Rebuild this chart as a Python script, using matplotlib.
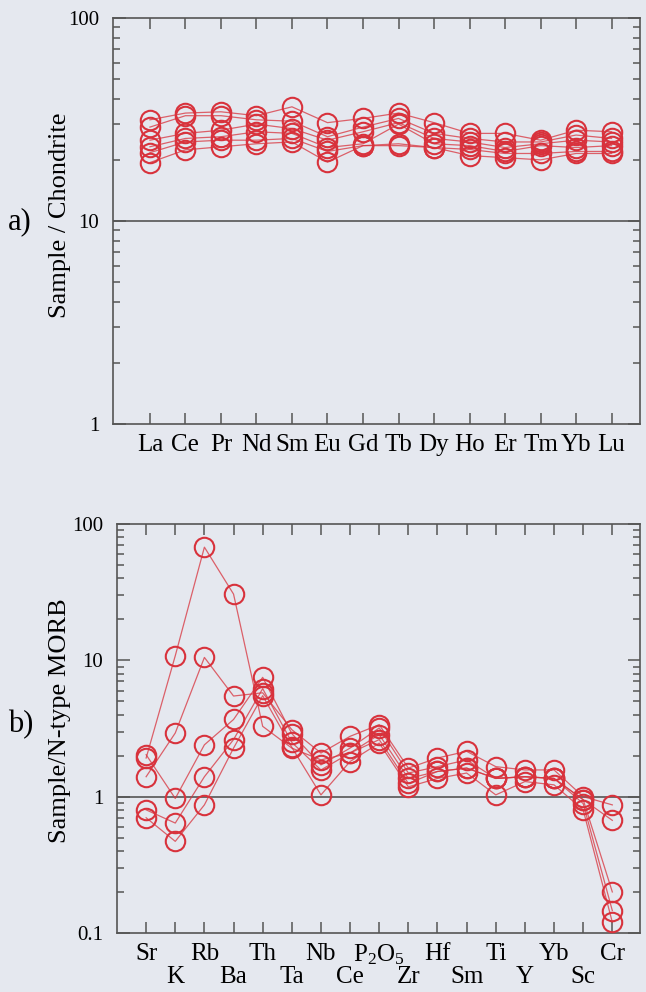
import matplotlib
matplotlib.use('Agg')
import matplotlib.pyplot as plt
from matplotlib.ticker import FixedLocator, FixedFormatter, LogLocator, NullFormatter

plt.rcParams['font.family'] = ['Liberation Serif', 'DejaVu Serif']
plt.rcParams['mathtext.fontset'] = 'custom'
plt.rcParams['mathtext.rm'] = 'Liberation Serif'
plt.rcParams['mathtext.it'] = 'Liberation Serif:italic'

# ---- Panel a: chondrite-normalised REE ----
ree = ['La', 'Ce', 'Pr', 'Nd', 'Sm', 'Eu', 'Gd', 'Tb', 'Dy', 'Ho', 'Er', 'Tm', 'Yb', 'Lu']
ree_s1 = [31.5, 34.0, 34.5, 33.0, 36.5, 30.5, 32.0, 34.0, 30.5, 27.0, 27.0, 25.0, 28.0, 27.5]
ree_s2 = [29.0, 33.0, 33.0, 31.5, 31.0, 26.0, 29.0, 32.0, 27.0, 25.5, 24.5, 24.5, 26.5, 25.5]
ree_s3 = [25.0, 27.0, 28.0, 30.0, 28.5, 25.0, 27.5, 30.5, 25.5, 24.5, 23.0, 24.0, 25.0, 24.5]
ree_s4 = [23.2, 25.5, 26.0, 27.5, 27.0, 23.0, 24.0, 30.0, 24.0, 23.5, 22.0, 23.5, 23.0, 23.5]
ree_s5 = [21.7, 24.5, 25.0, 25.0, 25.5, 22.0, 23.5, 24.0, 23.0, 22.5, 21.5, 21.5, 22.0, 22.0]
ree_s6 = [19.4, 22.4, 23.2, 24.0, 24.5, 19.5, 23.5, 23.5, 23.0, 21.0, 20.5, 20.0, 21.5, 21.5]
ree_samples = [ree_s1, ree_s2, ree_s3, ree_s4, ree_s5, ree_s6]
ree_yticks = [1, 10, 100]
ree_yticklabels = ['1', '10', '100']

# ---- Panel b: N-MORB-normalised spider diagram ----
spider = ['Sr', 'K', 'Rb', 'Ba', 'Th', 'Ta', 'Nb', 'Ce', 'P$_2$O$_5$', 'Zr',
          'Hf', 'Sm', 'Ti', 'Y', 'Yb', 'Sc', 'Cr']
sp_s1 = [1.92, 10.8, 67.6, 30.6, 3.28, 2.27, 1.86, 2.09, 2.85, 1.36, 1.53, 1.62, 1.36, 1.40, 1.36, 0.95, 0.67]
sp_s2 = [1.40, 2.93, 10.5, 5.47, 5.78, 3.10, 2.09, 2.77, 3.37, 1.62, 1.92, 2.15, 1.66, 1.57, 1.57, 1.00, 0.87]
sp_s3 = [2.03, 0.97, 2.40, 3.68, 7.50, 2.90, 1.71, 2.27, 3.19, 1.49, 1.66, 1.86, 1.36, 1.40, 1.36, 0.95, 0.20]
sp_s4 = [0.80, 0.64, 1.40, 2.62, 6.20, 2.50, 1.57, 2.09, 2.62, 1.25, 1.53, 1.62, 1.36, 1.40, 1.36, 0.89, 0.146]
sp_s5 = [0.70, 0.47, 0.87, 2.27, 5.50, 2.30, 1.03, 1.81, 2.47, 1.18, 1.36, 1.49, 1.03, 1.29, 1.22, 0.80, 0.12]
sp_samples = [sp_s1, sp_s2, sp_s3, sp_s4, sp_s5]
sp_yticks = [0.1, 1, 10, 100]
sp_yticklabels = ['0.1', '1', '10', '100']

RED = '#d8323c'
AX = '#555555'
BG = '#e5e8ef'

fig = plt.figure(figsize=(6.46, 9.92), dpi=100, facecolor=BG)

def style(ax, n, xlabels, xlim, ylim, yt, ytl, refline, xfs):
    ax.set_facecolor(BG)
    ax.set_yscale('log')
    ax.set_xlim(*xlim)
    ax.set_ylim(*ylim)
    for s in ax.spines.values():
        s.set_color(AX)
        s.set_linewidth(1.2)
    ax.axhline(refline, color=AX, lw=1.2, zorder=1)
    ax.xaxis.set_major_locator(FixedLocator(list(range(1, n + 1))))
    ax.xaxis.set_major_formatter(FixedFormatter(xlabels))
    ax.yaxis.set_major_locator(FixedLocator(yt))
    ax.yaxis.set_major_formatter(FixedFormatter(ytl))
    ax.yaxis.set_minor_locator(LogLocator(base=10, subs=range(2, 10)))
    ax.yaxis.set_minor_formatter(NullFormatter())
    ax.tick_params(axis='both', which='both', direction='in', top=True, right=True,
                   color=AX, width=1.1)
    ax.tick_params(axis='x', which='major', length=8, labelsize=xfs, pad=7)
    ax.tick_params(axis='y', which='major', length=9, labelsize=15, pad=10)
    ax.tick_params(axis='y', which='minor', length=5)
    ax.tick_params(axis='x', which='minor', bottom=False, top=False)

# Panel a
axa = fig.add_axes([0.1749, 0.5726, 0.8158, 0.4093])
xa = list(range(1, len(ree) + 1))
for s in ree_samples:
    axa.plot(xa, s, '-', color=RED, lw=0.9, alpha=0.75, zorder=2)
    axa.plot(xa, s, 'o', mfc='none', mec=RED, ms=14, mew=1.5, zorder=3)
style(axa, len(ree), ree, (-0.04, 14.8), (1, 100), ree_yticks, ree_yticklabels, 10, 18)

# Panel b
axb = fig.add_axes([0.1811, 0.0595, 0.8096, 0.4123])
xb = list(range(1, len(spider) + 1))
for s in sp_samples:
    axb.plot(xb, s, '-', color=RED, lw=0.9, alpha=0.75, zorder=2)
    axb.plot(xb, s, 'o', mfc='none', mec=RED, ms=14, mew=1.5, zorder=3)
top_labels = [lab if i % 2 == 0 else '' for i, lab in enumerate(spider)]
style(axb, len(spider), top_labels, (0.0, 17.95), (0.1, 100), sp_yticks, sp_yticklabels, 1, 18)
for i, lab in enumerate(spider):
    if i % 2 == 1:
        axb.annotate(lab, xy=(xb[i], 0), xycoords=('data', 'axes fraction'),
                     xytext=(0, -24), textcoords='offset points',
                     ha='center', va='top', fontsize=18)

fig.text(60 / 646, 1 - 215 / 992, 'Sample / Chondrite', rotation=90, ha='center', va='center', fontsize=19)
fig.text(60 / 646, 1 - 721 / 992, 'Sample/N-type MORB', rotation=90, ha='center', va='center', fontsize=19)
fig.text(8 / 646, 1 - 222 / 992, 'a)', ha='left', va='center', fontsize=22)
fig.text(8 / 646, 1 - 725 / 992, 'b)', ha='left', va='center', fontsize=22)

fig.savefig('out.png', dpi=100, facecolor=BG)
